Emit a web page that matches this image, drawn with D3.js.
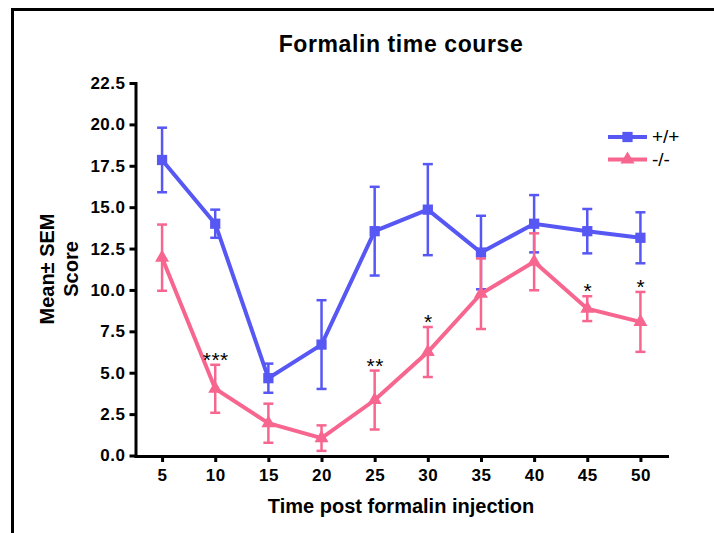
<!DOCTYPE html>
<html>
<head>
<meta charset="utf-8">
<script src="https://cdn.jsdelivr.net/npm/d3@7"></script>
<style>
  body { margin: 0; background: #fff; }
  text { font-family: "Liberation Sans", Arial, sans-serif; }
</style>
</head>
<body>
<svg id="chart" width="714" height="533"></svg>
<script>
var times = [5, 10, 15, 20, 25, 30, 35, 40, 45, 50];
var wtMean = [17.85, 14.0, 4.67, 6.7, 13.55, 14.85, 12.26, 14.0, 13.55, 13.15];
var wtSem = [1.95, 0.85, 0.88, 2.68, 2.68, 2.75, 2.22, 1.73, 1.34, 1.54];
var koMean = [11.95, 4.03, 1.95, 1.05, 3.35, 6.25, 9.77, 11.7, 8.87, 8.07];
var koSem = [2.0, 1.45, 1.18, 0.77, 1.78, 1.51, 2.13, 1.72, 0.75, 1.81];
var yTicks = [0, 2.5, 5, 7.5, 10, 12.5, 15, 17.5, 20, 22.5];
var stars = [{t: 10, label: "***"}, {t: 25, label: "**"}, {t: 30, label: "*"}, {t: 45, label: "*"}, {t: 50, label: "*"}];

var blue = "#5757f4";
var pink = "#f7668f";

var svg = d3.select("#chart");

// outer frame, runs off the right and bottom edges
svg.append("rect")
    .attr("x", 12.5).attr("y", 9.5)
    .attr("width", 800).attr("height", 600)
    .attr("fill", "none").attr("stroke", "#000").attr("stroke-width", 3);

var xScale = d3.scaleLinear().domain([2.5, 52.5]).range([135.5, 667]);
var yScale = d3.scaleLinear().domain([0, 22.5]).range([455.5, 83]);

var xAxis = svg.append("g")
    .attr("transform", "translate(0,456)")
    .call(d3.axisBottom(xScale).tickValues(times).tickSize(6).tickSizeOuter(0).tickPadding(7));

var yAxis = svg.append("g")
    .attr("transform", "translate(135.5,0)")
    .call(d3.axisLeft(yScale).tickValues(yTicks).tickFormat(d3.format(".1f")).tickSize(6).tickSizeOuter(0).tickPadding(4));

[xAxis, yAxis].forEach(function (ax) {
    ax.select(".domain").attr("stroke-width", 3).attr("stroke-linecap", "square");
    ax.selectAll(".tick line").attr("stroke-width", 3);
    ax.selectAll(".tick text")
        .attr("fill", "#000")
        .style("font-size", "17px")
        .style("font-weight", "bold")
        .style("letter-spacing", "0.5px");
});

function drawSeries(means, sems, color, shape, size) {
    var pts = times.map(function (t, i) {
        return {t: t, m: means[i], s: sems[i]};
    });
    var g = svg.append("g");

    var line = d3.line()
        .x(function (d) { return xScale(d.t); })
        .y(function (d) { return yScale(d.m); });

    g.append("path")
        .datum(pts)
        .attr("d", line)
        .attr("fill", "none")
        .attr("stroke", color)
        .attr("stroke-width", 4);

    var bars = g.selectAll("g.err").data(pts).enter().append("g").attr("class", "err")
        .attr("stroke", color).attr("stroke-width", 2.5);
    bars.append("line")
        .attr("x1", function (d) { return xScale(d.t); })
        .attr("x2", function (d) { return xScale(d.t); })
        .attr("y1", function (d) { return yScale(d.m + d.s); })
        .attr("y2", function (d) { return yScale(d.m - d.s); });
    [1, -1].forEach(function (sign) {
        bars.append("line")
            .attr("x1", function (d) { return xScale(d.t) - 5; })
            .attr("x2", function (d) { return xScale(d.t) + 5; })
            .attr("y1", function (d) { return yScale(d.m + sign * d.s); })
            .attr("y2", function (d) { return yScale(d.m + sign * d.s); });
    });

    g.selectAll("path.mark").data(pts).enter().append("path").attr("class", "mark")
        .attr("d", d3.symbol().type(shape).size(size))
        .attr("transform", function (d) { return "translate(" + xScale(d.t) + "," + yScale(d.m) + ")"; })
        .attr("fill", color);
}

drawSeries(wtMean, wtSem, blue, d3.symbolSquare, 105);
drawSeries(koMean, koSem, pink, d3.symbolTriangle, 85);

// significance stars above the -/- error bars
svg.selectAll("text.star").data(stars).enter().append("text").attr("class", "star")
    .attr("x", function (d) { return xScale(d.t) + 0.5; })
    .attr("y", function (d) {
        var i = times.indexOf(d.t);
        return yScale(koMean[i] + koSem[i]) + 2;
    })
    .attr("text-anchor", "middle")
    .style("font-size", "21px")
    .style("letter-spacing", "0.5px")
    .text(function (d) { return d.label; });

// legend
var legend = [
    {label: "+/+", color: blue, shape: d3.symbolSquare, size: 105, y: 137},
    {label: "-/-", color: pink, shape: d3.symbolTriangle, size: 85, y: 159.5}
];
var lg = svg.selectAll("g.legend").data(legend).enter().append("g").attr("class", "legend");
lg.append("line")
    .attr("x1", 608).attr("x2", 647)
    .attr("y1", function (d) { return d.y; }).attr("y2", function (d) { return d.y; })
    .attr("stroke", function (d) { return d.color; }).attr("stroke-width", 4);
lg.append("path")
    .attr("d", function (d) { return d3.symbol().type(d.shape).size(d.size)(); })
    .attr("transform", function (d) { return "translate(627.5," + d.y + ")"; })
    .attr("fill", function (d) { return d.color; });
lg.append("text")
    .attr("x", 652).attr("y", function (d) { return d.y + 6; })
    .style("font-size", "19px")
    .text(function (d) { return d.label; });

// titles
svg.append("text")
    .attr("x", 401).attr("y", 52)
    .attr("text-anchor", "middle")
    .style("font-size", "23px").style("font-weight", "bold").style("letter-spacing", "0.6px")
    .text("Formalin time course");

svg.append("text")
    .attr("x", 401).attr("y", 513)
    .attr("text-anchor", "middle")
    .style("font-size", "20px").style("font-weight", "bold")
    .text("Time post formalin injection");

var yLabel = svg.append("text")
    .attr("transform", "translate(54,269) rotate(-90)")
    .attr("text-anchor", "middle")
    .style("font-size", "20px").style("font-weight", "bold");
yLabel.append("tspan").attr("x", 0).attr("y", 0).text("Mean± SEM");
yLabel.append("tspan").attr("x", 0).attr("y", 24).text("Score");
</script>
</body>
</html>
